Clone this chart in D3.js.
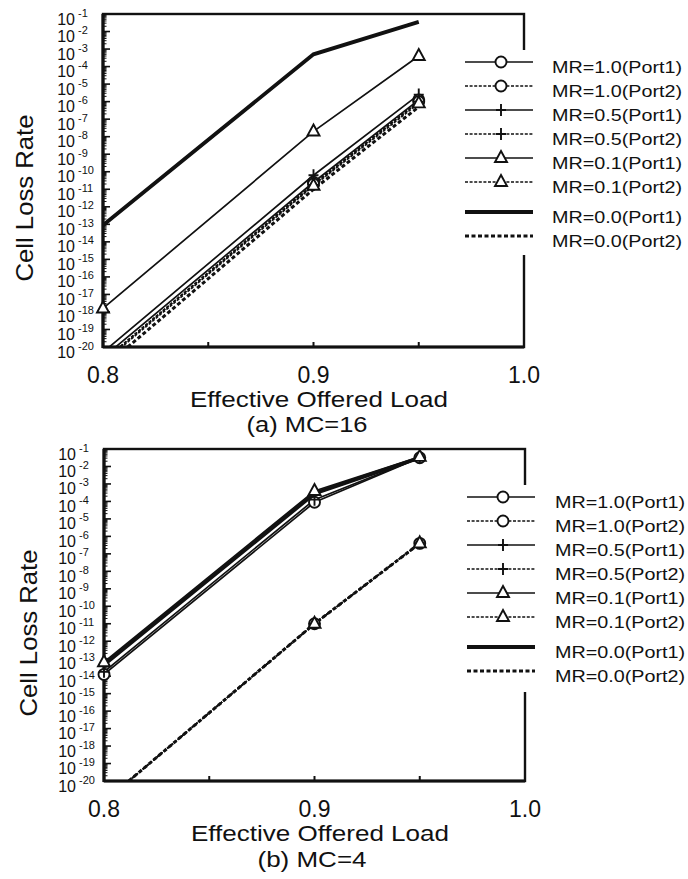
<!DOCTYPE html>
<html>
<head>
<meta charset="utf-8">
<script src="https://cdn.jsdelivr.net/npm/d3@7"></script>
<style>
body { margin: 0; background: #fff; }
text { font-family: "Liberation Sans", Arial, Helvetica, sans-serif; fill: #111; }
</style>
</head>
<body>
<svg width="688" height="879"></svg>
<script>
// offered loads where the points were computed
var loads = [0.8, 0.9, 0.95];
var seriesNames = ["MR=1.0(Port1)", "MR=1.0(Port2)", "MR=0.5(Port1)", "MR=0.5(Port2)",
                   "MR=0.1(Port1)", "MR=0.1(Port2)", "MR=0.0(Port1)", "MR=0.0(Port2)"];
var seriesMarks = ["circle", "circle", "plus", "plus", "triangle", "triangle", "none", "none"];
var seriesPort = [1, 2, 1, 2, 1, 2, 1, 2];

// log10(cell loss rate), one row per series, (a) MC=16
var mc16Exp = [
    [-20.6, -10.6, -5.9],
    [-20.8, -10.7, -6.0],
    [-20.3, -10.2, -5.6],
    [-20.8, -10.75, -6.0],
    [-17.8, -7.7, -3.4],
    [-20.9, -10.8, -6.1],
    [-13.05, -3.3, -1.45],
    [-21.2, -11.0, -6.3]
];
// (b) MC=4
var mc4Exp = [
    [-13.9, -4.05, -1.5],
    [-21.2, -11.0, -6.4],
    [-13.75, -3.9, -1.5],
    [-21.2, -11.0, -6.4],
    [-13.2, -3.4, -1.45],
    [-21.2, -11.0, -6.4],
    [-13.35, -3.55, -1.5],
    [-21.2, -11.0, -6.4]
];

var xTicks = [0.8, 0.85, 0.9, 0.95, 1.0];
var xTickLabels = ["0.8", "0.9", "1.0"];
var yExps = [-1, -2, -3, -4, -5, -6, -7, -8, -9, -10, -11, -12, -13, -14, -15, -16, -17, -18, -19, -20];

var svg = d3.select("svg");
var ink = "#111";

function lineStyle(sel, i) {
    var thick = seriesMarks[i] == "none";
    sel.attr("fill", "none").attr("stroke", ink)
        .attr("stroke-width", thick ? (seriesPort[i] == 2 ? 3 : 3.8) : 1.7)
        .attr("stroke-dasharray", seriesPort[i] == 2 ? (thick ? "4,2.5" : "3,1.6") : null);
}

function drawMark(g, kind, cx, cy) {
    if (kind == "circle") {
        g.append("circle").attr("cx", cx).attr("cy", cy).attr("r", 5.5)
            .attr("fill", "#fff").attr("stroke", ink).attr("stroke-width", 1.9);
    } else if (kind == "triangle") {
        g.append("path").attr("transform", "translate(" + cx + "," + cy + ")")
            .attr("d", "M0,-7L6,4L-6,4Z")
            .attr("fill", "#fff").attr("stroke", ink).attr("stroke-width", 1.9);
    } else if (kind == "plus") {
        g.append("path").attr("transform", "translate(" + cx + "," + cy + ")")
            .attr("d", "M-5,0H5M0,-6V6")
            .attr("fill", "none").attr("stroke", ink).attr("stroke-width", 1.9);
    }
}

function panel(p) {
    var g = svg.append("g");
    var x = d3.scaleLinear().domain([0.8, 1.0]).range([p.left, p.right]);
    var y = d3.scaleLog().domain([1e-1, 1e-20]).range([p.top, p.bottom]);

    g.append("clipPath").attr("id", p.id).append("rect")
        .attr("x", p.left).attr("y", p.top)
        .attr("width", p.right - p.left).attr("height", p.bottom - p.top);

    // frame
    g.append("rect").attr("x", p.left).attr("y", p.top)
        .attr("width", p.right - p.left).attr("height", p.bottom - p.top)
        .attr("fill", "none").attr("stroke", ink).attr("stroke-width", 2.4);
    g.append("line").attr("x1", p.left).attr("x2", p.left).attr("y1", p.top).attr("y2", p.bottom + 1)
        .attr("stroke", ink).attr("stroke-width", 3.2);
    g.append("line").attr("x1", p.left).attr("x2", p.right).attr("y1", p.bottom).attr("y2", p.bottom)
        .attr("stroke", ink).attr("stroke-width", 3);

    // y ticks, major and minor, labels as 10 with a raised exponent
    yExps.forEach(function (e) {
        var v = Math.pow(10, e);
        g.append("line").attr("x1", p.left).attr("x2", p.left + 7)
            .attr("y1", y(v)).attr("y2", y(v)).attr("stroke", ink).attr("stroke-width", 1.6);
        if (e < -1) {
            for (var k = 2; k < 10; k++) {
                g.append("line").attr("x1", p.left).attr("x2", p.left + 3.5)
                    .attr("y1", y(k * v)).attr("y2", y(k * v)).attr("stroke", ink).attr("stroke-width", 1);
            }
        }
        g.append("text").attr("x", p.left - 28).attr("y", y(v) + 10.5)
            .attr("text-anchor", "end").attr("font-size", 16).text("10");
        g.append("text").attr("x", p.left - 25).attr("y", y(v) + 2.5)
            .attr("font-size", 11).text("-" + (-e));
    });

    // x ticks
    xTicks.forEach(function (v) {
        g.append("line").attr("x1", x(v)).attr("x2", x(v))
            .attr("y1", p.bottom).attr("y2", p.bottom - 5).attr("stroke", ink).attr("stroke-width", 2);
    });
    xTickLabels.forEach(function (s) {
        g.append("text").attr("x", x(+s)).attr("y", p.bottom + 36)
            .attr("text-anchor", "middle").attr("font-size", 23).text(s);
    });

    g.append("text").attr("x", p.left + 216).attr("y", p.bottom + 60)
        .attr("text-anchor", "middle").attr("font-size", 22)
        .attr("textLength", 258).attr("lengthAdjust", "spacingAndGlyphs")
        .text("Effective Offered Load");
    g.append("text").attr("x", p.left + p.capDx).attr("y", p.bottom + p.capDy)
        .attr("text-anchor", "middle").attr("font-size", 22)
        .attr("textLength", p.capW).attr("lengthAdjust", "spacingAndGlyphs")
        .text(p.caption);
    g.append("text").attr("transform", "translate(" + p.titleX + "," + p.titleY + ") rotate(-90)")
        .attr("text-anchor", "middle").attr("font-size", 24)
        .attr("textLength", 167).attr("lengthAdjust", "spacingAndGlyphs")
        .text("Cell Loss Rate");

    // curves
    var line = d3.line()
        .x(function (d, i) { return x(loads[i]); })
        .y(function (d) { return y(Math.pow(10, d)); });
    var curves = g.append("g").attr("clip-path", "url(#" + p.id + ")");
    p.values.forEach(function (row, i) {
        curves.append("path").datum(row).attr("d", line).call(lineStyle, i);
    });
    var marks = g.append("g");
    p.values.forEach(function (row, i) {
        row.forEach(function (d, j) {
            if (d >= -20) drawMark(marks, seriesMarks[i], x(loads[j]), y(Math.pow(10, d)));
        });
    });

    // legend, drawn over the right border
    var lg = g.append("g");
    lg.append("rect").attr("x", 455).attr("y", p.bgTop).attr("width", 233)
        .attr("height", p.bgBottom - p.bgTop).attr("fill", "#fff");
    seriesNames.forEach(function (name, i) {
        var ly = p.legTop + i * 24 + (i >= 6 ? 6 : 0);
        lg.append("line").attr("x1", p.sampleX).attr("x2", p.sampleX + 68)
            .attr("y1", ly).attr("y2", ly).call(lineStyle, i);
        drawMark(lg, seriesMarks[i], p.sampleX + 36, ly);
        lg.append("text").attr("x", p.textX).attr("y", ly + 11)
            .attr("font-size", 17).attr("textLength", 130).attr("lengthAdjust", "spacingAndGlyphs")
            .text(name);
    });
}

panel({
    id: "clipA", values: mc16Exp, top: 14, bottom: 347, left: 103, right: 524,
    caption: "(a) MC=16", capDx: 204, capDy: 85, capW: 121,
    titleX: 33, titleY: 198,
    bgTop: 50, bgBottom: 255, legTop: 62, sampleX: 465, textX: 552
});
panel({
    id: "clipB", values: mc4Exp, top: 449, bottom: 781, left: 104, right: 525,
    caption: "(b) MC=4", capDx: 208, capDy: 86, capW: 109,
    titleX: 37, titleY: 633,
    bgTop: 485, bgBottom: 692, legTop: 497, sampleX: 467, textX: 555
});
</script>
</body>
</html>
